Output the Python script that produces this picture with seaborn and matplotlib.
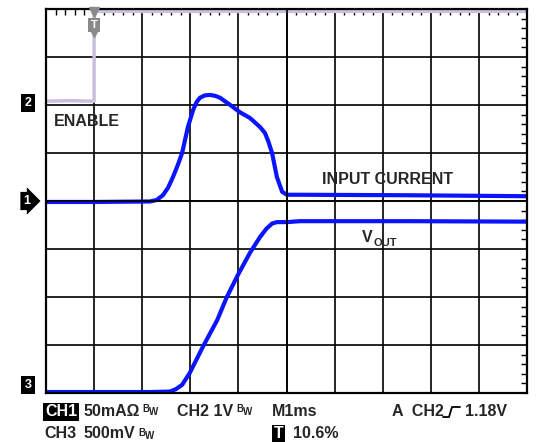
import matplotlib
matplotlib.use("Agg")
import matplotlib.pyplot as plt
from matplotlib.ticker import MultipleLocator, NullLocator
from matplotlib.lines import Line2D
import pandas as pd
import seaborn as sns

# scope screen: 10 x 8 divisions, every trace value is in divisions
enable_x = [0.0, 0.5, 0.98, 1.0, 1.0, 3.0, 6.0, 10.0]
enable_y = [6.08, 6.09, 6.08, 6.08, 7.95, 7.95, 7.95, 7.95]

current_x = [0.0, 1.0, 2.16, 2.30, 2.43, 2.54, 2.64, 2.74, 2.83, 2.95, 3.06, 3.13, 3.20,
             3.30, 3.41, 3.52, 3.62, 3.83, 4.03, 4.24, 4.45, 4.55, 4.62, 4.70, 4.80,
             4.91, 5.01, 5.28, 7.5, 10.0]
current_y = [3.98, 3.98, 3.99, 4.02, 4.12, 4.28, 4.50, 4.75, 5.00, 5.54, 5.90, 6.06, 6.15,
             6.20, 6.21, 6.19, 6.15, 6.00, 5.85, 5.73, 5.54, 5.42, 5.25, 5.00, 4.50,
             4.19, 4.13, 4.13, 4.12, 4.10]

vout_x = [0.0, 1.0, 2.16, 2.58, 2.70, 2.83, 2.99, 3.26, 3.56, 3.76, 3.99, 4.24, 4.45,
          4.58, 4.70, 4.80, 5.01, 5.28, 7.5, 10.0]
vout_y = [0.02, 0.02, 0.02, 0.03, 0.08, 0.17, 0.42, 0.96, 1.52, 2.00, 2.46, 2.92, 3.25,
          3.42, 3.53, 3.56, 3.56, 3.58, 3.58, 3.57]

W, H = 546, 442
BLUE = "#0a14ff"
LAV = "#c9c0dd"

sns.set_style("white")
plt.rcParams["font.family"] = ["Liberation Sans", "DejaVu Sans"]
plt.rcParams["font.weight"] = "bold"

fig = plt.figure(figsize=(W / 100, H / 100), dpi=100)
rect = [46 / W, (H - 393) / H, 481 / W, 384 / H]
ax = fig.add_axes(rect)

df_en = pd.DataFrame({"t": enable_x, "v": enable_y})
df_cur = pd.DataFrame({"t": current_x, "v": current_y})
df_out = pd.DataFrame({"t": vout_x, "v": vout_y})

sns.lineplot(data=df_en, x="t", y="v", color=LAV, lw=2.5, sort=False, estimator=None, ax=ax)
sns.lineplot(data=df_cur, x="t", y="v", color=BLUE, lw=3, sort=False, estimator=None, ax=ax)
sns.lineplot(data=df_out, x="t", y="v", color=BLUE, lw=3, sort=False, estimator=None, ax=ax)

ax.set_xlim(0, 10)
ax.set_ylim(0, 8)
ax.set_xlabel("")
ax.set_ylabel("")
for a in (ax.xaxis, ax.yaxis):
    a.set_major_locator(MultipleLocator(1))
    a.set_minor_locator(MultipleLocator(0.2))
ax.grid(True, which="major", color="black", lw=1.2)
ax.tick_params(which="both", direction="in", top=True, right=True,
               labelbottom=False, labelleft=False, color="black")
ax.tick_params(which="major", length=0)
ax.tick_params(which="minor", length=4, width=1)
for s in ax.spines.values():
    s.set_color("black")
    s.set_linewidth(1.6)

# centre crosshair ticks
axc = fig.add_axes(rect)
axc.patch.set_visible(False)
axc.set_xlim(0, 10)
axc.set_ylim(0, 8)
axc.spines["top"].set_visible(False)
axc.spines["right"].set_visible(False)
axc.spines["left"].set_position(("data", 5))
axc.spines["bottom"].set_position(("data", 4))
for s in ("left", "bottom"):
    axc.spines[s].set_linewidth(1.2)
    axc.spines[s].set_color("black")
for a in (axc.xaxis, axc.yaxis):
    a.set_major_locator(NullLocator())
    a.set_minor_locator(MultipleLocator(0.2))
axc.tick_params(which="minor", direction="inout", length=5, width=1,
                labelbottom=False, labelleft=False)


def ftxt(px, py, s, **kw):
    kw.setdefault("fontsize", 11.5)
    kw.setdefault("fontweight", "bold")
    kw.setdefault("va", "center")
    return fig.text(px / W, 1 - py / H, s, **kw)


def bw(px, py):
    ftxt(px, py, "B", fontsize=7)
    ftxt(px + 7, py + 3, "W", fontsize=7)


# trigger marker
fig.add_artist(Line2D([94 / W], [1 - 12 / H], marker="v", markersize=7,
                      color="#8a8a8a", transform=fig.transFigure))
ftxt(94, 25, "T", fontsize=8, color="white", ha="center",
     bbox=dict(boxstyle="square,pad=0.2", fc="#8a8a8a", ec="none"))
fig.add_artist(Line2D([94 / W], [1 - 33 / H], marker="v", markersize=6,
                      color="#8a8a8a", transform=fig.transFigure))

# channel markers
box = dict(boxstyle="square,pad=0.25", fc="black", ec="none")
ftxt(28, 103, "2", fontsize=9, color="white", ha="center", bbox=box)
ftxt(27, 201, "1", fontsize=9, color="white", ha="center",
     bbox=dict(boxstyle="rarrow,pad=0.25", fc="black", ec="none"))
ftxt(28, 385, "3", fontsize=9, color="white", ha="center", bbox=box)

# trace labels
ftxt(54, 122, "ENABLE")
ftxt(322, 180, "INPUT CURRENT")
ftxt(362, 237, "V")
ftxt(374, 243, "OUT", fontsize=8)

# readout line 1
ftxt(45, 412, "CH1", color="white",
     bbox=dict(boxstyle="square,pad=0.1", fc="black", ec="none"))
ftxt(83, 412, "50mAΩ")
bw(142, 409)
ftxt(177, 412, "CH2 1V")
bw(236, 409)
ftxt(272, 412, "M1ms")
ftxt(392, 412, "A  CH2")
edge = Line2D([443 / W, 449 / W, 452 / W, 460 / W],
              [1 - 417 / H, 1 - 417 / H, 1 - 407 / H, 1 - 407 / H],
              color="black", lw=1.3, transform=fig.transFigure)
fig.add_artist(edge)
ftxt(465, 412, "1.18V")

# readout line 2
ftxt(44, 434, "CH3")
ftxt(83, 434, "500mV")
bw(138, 433)
ftxt(274, 434, "T", color="white",
     bbox=dict(boxstyle="square,pad=0.1", fc="black", ec="none"))
ftxt(293, 434, "10.6%")

fig.savefig("out.png", dpi=100)
